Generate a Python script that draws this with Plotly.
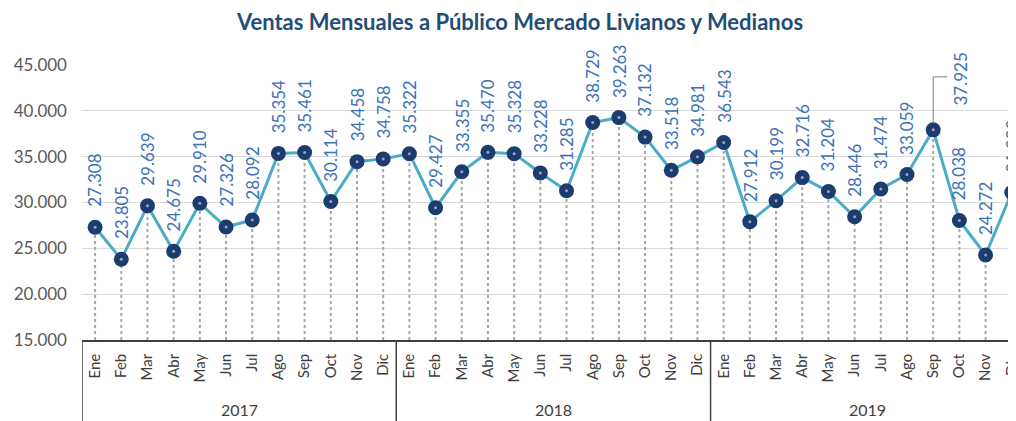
import plotly.graph_objects as go

years = ["2017", "2018", "2019"]
months = ["Ene", "Feb", "Mar", "Abr", "May", "Jun", "Jul", "Ago", "Sep", "Oct", "Nov", "Dic"]
ventas_2017 = [27308, 23805, 29639, 24675, 29910, 27326, 28092, 35354, 35461, 30114, 34458, 34758]
ventas_2018 = [35322, 29427, 33355, 35470, 35328, 33228, 31285, 38729, 39263, 37132, 33518, 34981]
ventas_2019 = [36543, 27912, 30199, 32716, 31204, 28446, 31474, 33059, 37925, 28038, 24272, 31090]
y_ticks = [15000, 20000, 25000, 30000, 35000, 40000, 45000]
title_text = "Ventas Mensuales a Público Mercado Livianos y Medianos"

values = ventas_2017 + ventas_2018 + ventas_2019
labels = months * len(years)
xs = list(range(len(values)))
ymin = y_ticks[0]

FONT = "Lato"
LABEL_COLOR = "#3d72b6"

W, H = 1016, 421
# page body has an 8px default margin: compensate in the figure margins
OFF = 8
ML, MT, MB = 82 - OFF, 65 - OFF, H - (340 - OFF)
plot_h = H - MT - MB
plot_w = W - ML
cat_w = 26.19

fig = go.Figure()

# dotted drop lines
dx, dy = [], []
for x, v in zip(xs, values):
    dx += [x, x, None]
    dy += [ymin, v, None]
fig.add_trace(go.Scatter(x=dx, y=dy, mode="lines",
                         line=dict(color="#a6a6a6", width=2, dash="dot"),
                         hoverinfo="skip", showlegend=False))

fig.add_trace(go.Scatter(x=xs, y=values, mode="lines+markers",
                         line=dict(color="#4bacc6", width=3),
                         marker=dict(color="#1c3c70", size=15),
                         showlegend=False))
# small grey centre dot of the drop line seen through the marker
fig.add_trace(go.Scatter(x=xs, y=values, mode="markers",
                         marker=dict(color="#9aa4b4", size=3),
                         hoverinfo="skip", showlegend=False))

def fmt(v):
    return f"{v:,}".replace(",", ".")

callout_idx = 32  # Sep 2019
for x, v in zip(xs, values):
    if x == callout_idx:
        fig.add_annotation(x=x, y=v, text=fmt(v), showarrow=False, textangle=-90,
                           xanchor="center", yanchor="bottom", xshift=27, yshift=22,
                           font=dict(family=FONT, size=17, color=LABEL_COLOR))
        fig.add_shape(type="line", xref="x", yref="y", xsizemode="pixel", ysizemode="pixel",
                      xanchor=x, yanchor=v, x0=0, x1=0, y0=7, y1=53,
                      line=dict(color="#7f7f7f", width=1))
        fig.add_shape(type="line", xref="x", yref="y", xsizemode="pixel", ysizemode="pixel",
                      xanchor=x, yanchor=v, x0=0, x1=14, y0=53, y1=53,
                      line=dict(color="#7f7f7f", width=1))
    else:
        fig.add_annotation(x=x, y=v, text=fmt(v), showarrow=False, textangle=-90,
                           xanchor="center", yanchor="bottom", yshift=18,
                           font=dict(family=FONT, size=17, color=LABEL_COLOR))

# year labels & separators
for i, yr in enumerate(years):
    fig.add_annotation(x=i * 12 + 5.5, y=-(410 - 340) / plot_h, xref="x", yref="paper",
                       text=yr, showarrow=False, yanchor="middle",
                       font=dict(family=FONT, size=16, color="#404040"))
    fig.add_shape(type="line", xref="x", yref="paper", x0=i * 12 - 0.5, x1=i * 12 - 0.5,
                  y0=0, y1=-0.33, line=dict(color="#404040", width=1.5))

fig.update_layout(
    width=W, height=H,
    margin=dict(l=ML, r=0, t=MT, b=MB, autoexpand=False),
    paper_bgcolor="white", plot_bgcolor="white",
    separators=",.",
    title=dict(text=title_text, x=(520 - OFF) / W, xanchor="center", xref="container",
               y=1 - (22 - OFF) / H, yanchor="middle", yref="container",
               font=dict(family=FONT, size=22, color="#1f4e79", weight="bold")),
    xaxis=dict(range=[-0.5, -0.5 + plot_w / cat_w], tickvals=xs, ticktext=labels, tickangle=-90,
               automargin=False,
               showgrid=False, zeroline=False, showline=True, linecolor="#404040", linewidth=1.5,
               ticks="", ticklabelstandoff=6,
               tickfont=dict(family=FONT, size=15, color="#404040")),
    yaxis=dict(range=[ymin, y_ticks[-1]], tickvals=y_ticks, tickformat=",",
               automargin=False,
               showgrid=True, gridcolor="#d9d9d9", gridwidth=1, zeroline=False,
               showline=False, ticks="", ticklabelstandoff=14,
               tickfont=dict(family=FONT, size=17, color="#595959")),
)

fig.write_html("out.html")
